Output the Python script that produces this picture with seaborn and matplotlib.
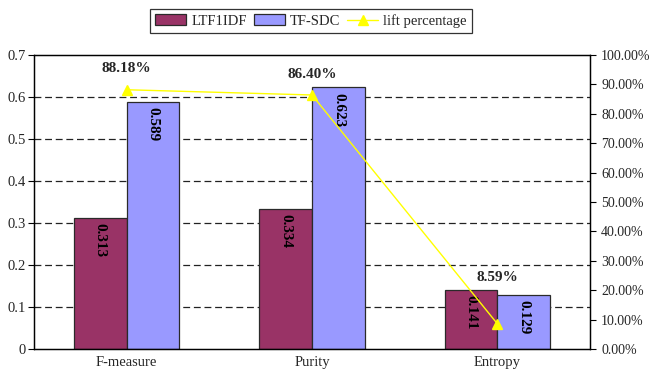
import matplotlib
matplotlib.use("Agg")
import matplotlib.pyplot as plt
import seaborn as sns
import pandas as pd
from matplotlib.ticker import FuncFormatter, MultipleLocator, FixedLocator
from matplotlib.patches import Patch
from matplotlib.lines import Line2D

# Clustering quality measures
metrics = ["F-measure", "Purity", "Entropy"]
ltf1idf = [0.313, 0.334, 0.141]
tf_sdc = [0.589, 0.623, 0.129]
lift_pct = [88.18, 86.40, 8.59]
series_names = ["LTF1IDF", "TF-SDC"]
line_name = "lift percentage"

colors = {"LTF1IDF": "#993366", "TF-SDC": "#9999FF"}

df = pd.DataFrame({
    "metric": metrics * 2,
    "method": [series_names[0]] * 3 + [series_names[1]] * 3,
    "value": ltf1idf + tf_sdc,
})

sns.set_theme(style="white")
plt.rcParams["font.family"] = ["Liberation Serif", "DejaVu Serif"]

fig = plt.figure(figsize=(6.52, 3.71), dpi=100)
ax = fig.add_axes([34 / 652, 1 - 349 / 371, 556 / 652, 294 / 371])

sns.barplot(data=df, x="metric", y="value", hue="method", order=metrics,
            hue_order=series_names, palette=colors, width=0.57,
            edgecolor="#2a2a2a", linewidth=0.9, saturation=1, ax=ax,
            legend=False)

ax.set_ylim(0, 0.7)
ax.set_xlim(-0.5, 2.5)
ax.yaxis.set_major_locator(MultipleLocator(0.1))
ax.yaxis.set_major_formatter(FuncFormatter(lambda v, p: "0" if abs(v) < 1e-9 else f"{v:.1f}"))
for y in [0.1, 0.2, 0.3, 0.4, 0.5, 0.6]:
    ax.axhline(y, color="#222222", lw=0.9, ls=(0, (5.5, 3)), zorder=0)
ax.set_xlabel("")
ax.set_ylabel("")

# category ticks sit between groups, labels centred on groups
ax.set_xticks([0, 1, 2])
ax.set_xticklabels(metrics, fontsize=10.5)
ax.tick_params(axis="x", length=0, pad=5)
ax.xaxis.set_minor_locator(FixedLocator([0.5, 1.5]))
ax.tick_params(axis="x", which="minor", direction="in", length=4, color="black", width=0.8)
ax.tick_params(axis="y", direction="out", length=4, color="black", width=0.8,
               labelsize=10.5, pad=2, left=True)

for s in ax.spines.values():
    s.set_color("black")
    s.set_linewidth(0.9)

# value labels inside the bars, reading downward
for cont in ax.containers:
    for bar in cont:
        h = bar.get_height()
        ax.annotate(f"{h:.3f}", (bar.get_x() + bar.get_width() / 2, h),
                    xytext=(0, -4), textcoords="offset points",
                    rotation=-90, ha="center", va="top",
                    fontsize=11, fontweight="bold", color="black")

# lift percentage on the secondary axis
ax2 = ax.twinx()
ax2.set_ylim(0, 100)
ax2.plot(range(len(metrics)), lift_pct, color="#FFFF00", lw=1.0,
         marker="^", markersize=7, markerfacecolor="#FFFF00",
         markeredgecolor="#FFFF00")
ax2.yaxis.set_major_locator(MultipleLocator(10))
ax2.yaxis.set_major_formatter(FuncFormatter(lambda v, p: f"{v:.2f}%"))
ax2.tick_params(axis="y", direction="out", length=4, color="black", width=0.8,
                labelsize=10, pad=4, right=True)
ax2.grid(False)
for s in ax2.spines.values():
    s.set_color("black")
    s.set_linewidth(0.9)

label_offsets = [15, 15, 33]
for i, (v, off) in enumerate(zip(lift_pct, label_offsets)):
    ax2.annotate(f"{v:.2f}%", (i, v), xytext=(0, off), textcoords="offset points",
                 ha="center", va="center", fontsize=11, fontweight="bold")

handles = [
    Patch(facecolor=colors["LTF1IDF"], edgecolor="#2a2a2a", linewidth=0.9, label="LTF1IDF"),
    Patch(facecolor=colors["TF-SDC"], edgecolor="#2a2a2a", linewidth=0.9, label="TF-SDC"),
    Line2D([0], [0], color="#FFFF00", lw=1.0, marker="^", markersize=7, label=line_name),
]
leg = fig.legend(handles=handles, loc="center", bbox_to_anchor=(311 / 652, 1 - 21 / 371),
                 ncol=3, frameon=True, fancybox=False, fontsize=10.5,
                 handlelength=2.1, handleheight=0.8, columnspacing=0.5,
                 handletextpad=0.35, borderpad=0.35, borderaxespad=0)
leg.get_frame().set_edgecolor("black")
leg.get_frame().set_linewidth(0.9)

fig.savefig("out.png", dpi=100)
